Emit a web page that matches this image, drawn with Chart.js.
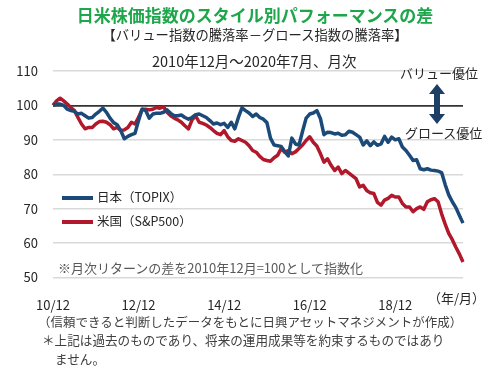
<!DOCTYPE html>
<html>
<head>
<meta charset="utf-8">
<script src="https://cdn.jsdelivr.net/npm/chart.js@4.4.1/dist/chart.umd.min.js"></script>
<style>
  body { margin: 0; background: #fff; }
  #wrap { position: relative; width: 489px; height: 374px; overflow: hidden;
    font-family: 'Noto Sans CJK JP', 'Noto Sans', sans-serif; color: #262626; }
  #wrap canvas { position: absolute; left: 0; top: 0; }
  .t { position: absolute; white-space: nowrap; line-height: 1; }
  .c { left: 0; width: 510px; text-align: center; }
  .leg { position: absolute; left: 62px; width: 31px; height: 4px; }
</style>
</head>
<body>
<div id="wrap">
  <canvas id="myChart" width="489" height="374"></canvas>
  <div class="t c" style="top:6px;font-size:17px;font-weight:bold;color:#1ea64b;">日米株価指数のスタイル別パフォーマンスの差</div>
  <div class="t c" style="top:28px;font-size:13.3px;">【バリュー指数の騰落率－グロース指数の騰落率】</div>
  <div class="t" style="left:152px;top:54px;font-size:14.5px;">2010年12月～2020年7月、月次</div>
  <div class="t" style="left:400px;top:66px;font-size:13px;">バリュー優位</div>
  <div class="t" style="left:405px;top:126px;font-size:13px;">グロース優位</div>
  <svg class="t" style="left:427px;top:83px;" width="20" height="42">
    <polygon points="10,1 18,11 13,11 13,31 18,31 10,41 2,31 7,31 7,11 2,11" fill="#1d3f66"/>
  </svg>
  <div class="leg" style="top:196px;background:#1b4a78;"></div>
  <div class="leg" style="top:220px;background:#b2182b;"></div>
  <div class="t" style="left:97px;top:191px;font-size:12.5px;">日本（TOPIX）</div>
  <div class="t" style="left:97px;top:215px;font-size:12.5px;">米国（S&amp;P500）</div>
  <div class="t" style="left:58px;top:261px;font-size:13px;color:#595959;">※月次リターンの差を2010年12月=100として指数化</div>
  <div class="t" style="left:428px;top:291px;font-size:13px;">（年/月）</div>
  <div class="t" style="left:38px;top:316px;font-size:12.5px;color:#404040;">（信頼できると判断したデータをもとに日興アセットマネジメントが作成）</div>
  <div class="t" style="left:42px;top:334px;font-size:12.6px;color:#404040;">＊上記は過去のものであり、将来の運用成果等を約束するものではあり</div>
  <div class="t" style="left:55px;top:353px;font-size:12.6px;color:#404040;">ません。</div>
</div>
<script>
'use strict';

// month labels 2010/12 .. 2020/07 (yy/mm)
const months = [];
for (let y = 2010, m = 12; y < 2020 || (y === 2020 && m <= 7); m++) {
  if (m > 12) { m = 1; y++; }
  months.push(String(y).slice(2) + '/' + String(m).padStart(2, '0'));
}
months[0] = '10/12';

// x tick labels shown on the axis
const xTickLabels = ['10/12', '12/12', '14/12', '16/12', '18/12'];
// y tick values
const yTicks = [50, 60, 70, 80, 90, 100, 110];

// Japan (TOPIX) value minus growth index, 2010/12 = 100
const topix = [
  100, 100.4, 100.4, 100, 98.9, 98.5, 98.3, 97.5, 97.7, 97, 96.3, 96.5,
  97.5, 98.3, 99.2, 98, 96.3, 95, 94.4, 92.7, 90.3, 91, 91.5, 91.9,
  95.6, 98.9, 98.5, 96.3, 97.5, 97.7, 97.7, 98, 98.7, 97.7, 97, 97,
  97.2, 96.5, 96, 96.5, 97.3, 97.5, 97, 96.5, 95.6, 94.6, 94.9, 94.4,
  94.8, 93.6, 95.1, 93.2, 96.5, 99.3, 98.5, 97.8, 96.8, 97.5, 96.5, 96,
  95, 90.5, 88.5, 88.3, 88.1, 86.6, 85.3, 90.5, 88.8, 88.5, 92.5, 96.3,
  97.5, 97.8, 98.5, 96.2, 91.5, 92.2, 92.1, 91.7, 91.9, 91.3, 91.5, 92.5,
  92.2, 91.5, 90.8, 88.5, 89.7, 88.3, 89.4, 88.4, 88.8, 91, 89.3, 90.8,
  90, 90.3, 87.9, 86.9, 85.5, 84, 84.2, 81.6, 81.3, 81.6, 81.2, 81.1,
  80.9, 80.5, 77, 74, 72, 70.3, 68, 65.8
];

// US (S&P500) value minus growth index, 2010/12 = 100
const sp500 = [
  100, 101.3, 102.1, 101.3, 100.4, 99.4, 98.5, 96.5, 94.6, 93.2, 93.6, 93.6,
  94.6, 95.3, 95.4, 95.1, 94.4, 93.2, 93.6, 92.7, 92.9, 93.6, 95.1, 94.6,
  96.5, 98.9, 98.9, 98.7, 98.9, 99.4, 99.2, 99.6, 98, 97, 96.3, 95.8,
  95.1, 94.1, 93.2, 95.8, 97, 95.1, 94.8, 94.3, 93.6, 92.7, 91.9, 91.5,
  92.7, 90.9, 89.8, 89.6, 90.3, 89.8, 89.3, 88.3, 86.9, 86.4, 85.2, 84.3,
  84, 83.8, 84.8, 85.5, 87.5, 86.4, 86.9, 86, 86.5, 87.5, 88.5, 89.8,
  90.9, 89.3, 88.2, 86, 83.5, 84.5, 82.6, 81.1, 82.1, 80.2, 81.1, 80.3,
  79.5, 78.7, 76.3, 76.8, 75.3, 74.6, 74.4, 71.8, 71, 72.5, 73, 73.9,
  73.4, 73.4, 71.5, 70.5, 70.5, 69.1, 70, 70.5, 69.8, 72, 72.6, 72.9,
  72, 68.5, 65.5, 62.8, 61, 58.8, 56.8, 54.5
];

const tickFont = { family: "'Noto Sans CJK JP', sans-serif", size: 13 };

const config = {
  type: 'line',
  data: {
    labels: months,
    datasets: [
      { label: '日本（TOPIX）', data: topix, borderColor: '#1b4a78', borderWidth: 3.5 },
      { label: '米国（S&P500）', data: sp500, borderColor: '#b2182b', borderWidth: 3.5 }
    ]
  },
  options: {
    responsive: false,
    animation: false,
    layout: { padding: { top: 71, right: 26, left: 0, bottom: 0 } },
    elements: { point: { radius: 0 }, line: { tension: 0, borderJoinStyle: 'round' } },
    plugins: { legend: { display: false }, tooltip: { enabled: false } },
    scales: {
      x: {
        offset: false,
        grid: { display: false },
        border: { display: false },
        ticks: {
          autoSkip: false, maxRotation: 0, padding: 12, color: '#262626', font: tickFont,
          callback: function (val) {
            const lab = this.getLabelForValue(val);
            return xTickLabels.includes(lab) ? lab : '';
          }
        },
        afterFit: (scale) => { scale.height = 96.5; }
      },
      y: {
        min: 50, max: 110,
        afterBuildTicks: (scale) => { scale.ticks = yTicks.map(v => ({ value: v })); },
        grid: {
          drawTicks: false,
          color: (ctx) => ctx.tick && ctx.tick.value === 100 ? '#333333' : '#d9d9d9',
          lineWidth: (ctx) => ctx.tick && ctx.tick.value === 100 ? 1.8 : 1.5
        },
        border: { display: false },
        ticks: { padding: 15, color: '#262626', font: tickFont },
        afterFit: (scale) => { scale.width = 53; }
      }
    }
  }
};

const myChart = new Chart(document.getElementById('myChart'), config);
</script>
</body>
</html>
